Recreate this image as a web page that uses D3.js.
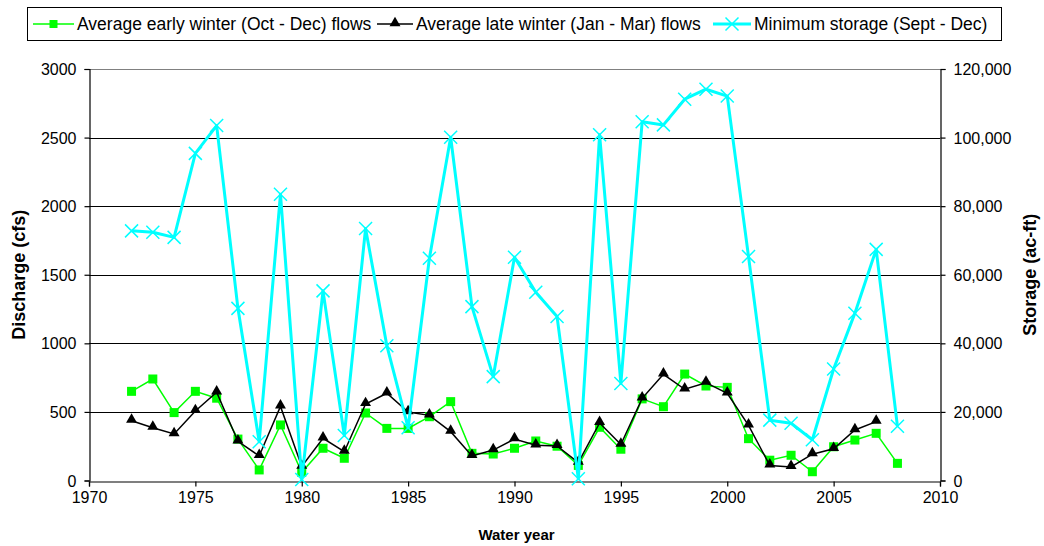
<!DOCTYPE html>
<html>
<head>
<meta charset="utf-8">
<script src="https://cdn.jsdelivr.net/npm/d3@7"></script>
<style>
  html, body { margin: 0; padding: 0; background: #fff; }
  svg { display: block; font-family: "Liberation Sans", Arial, sans-serif; }
</style>
</head>
<body>
<svg id="chart" width="1044" height="546"></svg>
<script>
const years = [1972,1973,1974,1975,1976,1977,1978,1979,1980,1981,1982,1983,1984,1985,1986,1987,1988,1989,1990,
  1991,1992,1993,1994,1995,1996,1997,1998,1999,2000,2001,2002,2003,2004,2005,2006,2007,2008];
const earlyWinter = [650,740,495,650,600,302,77,405,60,235,162,492,380,380,465,575,198,193,235,
  288,250,110,388,228,595,538,776,689,679,305,148,184,64,246,295,344,125];
const lateWinter = [436,385,339,507,643,286,179,540,102,308,210,558,636,499,475,356,179,222,302,
  257,252,130,420,262,599,774,665,713,636,402,110,99,192,231,368,429,null];
const minStorage = [72800,72400,70900,95400,103500,50200,11300,83500,300,55300,13100,73500,39300,15400,64800,100100,50700,30300,65100,
  54900,47800,500,100800,28300,104600,103700,111200,114100,112100,65300,17600,16700,11900,32500,48800,67400,15800];
const xTicks = [1970,1975,1980,1985,1990,1995,2000,2005,2010];
const yLeftTicks = [0,500,1000,1500,2000,2500,3000];
const yRightTicks = [0,20000,40000,60000,80000,100000,120000];
const legendLabels = ["Average early winter (Oct - Dec) flows","Average late winter (Jan - Mar) flows","Minimum storage (Sept - Dec)"];

const svg = d3.select("#chart");
const L = 89, R = 940, T = 69, B = 480.5;

const x = d3.scaleLinear().domain([1970, 2010]).range([L, R]);
const yL = d3.scaleLinear().domain([0, 3000]).range([B, T]);
const yR = d3.scaleLinear().domain([0, 120000]).range([B, T]);

// gridlines
svg.append("g").selectAll("line").data(yLeftTicks.filter(d => d > 0)).join("line")
  .attr("x1", L).attr("x2", R)
  .attr("y1", d => Math.round(yL(d)) + 0.5).attr("y2", d => Math.round(yL(d)) + 0.5)
  .attr("stroke", d => d === 3000 ? "#808080" : "#000").attr("stroke-width", 1);

// axes
const gx = svg.append("g").attr("transform", `translate(0,${Math.round(B) + 0.5})`)
  .call(d3.axisBottom(x).tickValues(xTicks).tickFormat(d3.format("d")).tickSizeOuter(0).tickSize(5).tickPadding(5));
const gl = svg.append("g").attr("transform", `translate(${L + 0.5},0)`)
  .call(d3.axisLeft(yL).tickValues(yLeftTicks).tickFormat(d3.format("d")).tickSizeOuter(0).tickSize(5).tickPadding(8));
const gr = svg.append("g").attr("transform", `translate(${R + 0.5},0)`)
  .call(d3.axisRight(yR).tickValues(yRightTicks).tickFormat(d3.format(",")).tickSizeOuter(0).tickSize(5).tickPadding(8));
[gx, gl, gr].forEach(g => {
  g.selectAll("text").attr("font-size", 16).attr("fill", "#000").attr("font-family", "Liberation Sans, Arial, sans-serif");
  g.selectAll("path, line").attr("stroke", "#000").attr("stroke-width", 1.2);
});
gl.selectAll(".tick text").attr("dy", "0.35em");
gr.selectAll(".tick text").attr("dy", "0.35em");

// axis titles
svg.append("text").attr("transform", `translate(25,${(T + B) / 2}) rotate(-90)`)
  .attr("text-anchor", "middle").attr("font-size", 18).attr("font-weight", "bold").text("Discharge (cfs)");
svg.append("text").attr("transform", `translate(1036,${(T + B) / 2}) rotate(-90)`)
  .attr("text-anchor", "middle").attr("font-size", 18).attr("font-weight", "bold").text("Storage (ac-ft)");
svg.append("text").attr("x", (L + R) / 2 + 2).attr("y", 540)
  .attr("text-anchor", "middle").attr("font-size", 15).attr("font-weight", "bold").text("Water year");

// series
const green = "#00ff00", black = "#000000", cyan = "#00ffff";
const earlyData = years.map((yr, i) => ({ yr, v: earlyWinter[i] }));
const lateData = years.map((yr, i) => ({ yr, v: lateWinter[i] })).filter(d => d.v !== null);
const storData = years.map((yr, i) => ({ yr, v: minStorage[i] }));

const lineL = d3.line().x(d => x(d.yr)).y(d => yL(d.v));
const lineR = d3.line().x(d => x(d.yr)).y(d => yR(d.v));

const gPlot = svg.append("g");
// early winter
gPlot.append("path").datum(earlyData).attr("d", lineL).attr("fill", "none").attr("stroke", green).attr("stroke-width", 1.5);
gPlot.append("g").selectAll("rect").data(earlyData).join("rect")
  .attr("x", d => x(d.yr) - 4.5).attr("y", d => yL(d.v) - 4.5).attr("width", 9).attr("height", 9).attr("fill", green);
// late winter
gPlot.append("path").datum(lateData).attr("d", lineL).attr("fill", "none").attr("stroke", black).attr("stroke-width", 1.5);
const tri = d3.symbol().type(d3.symbolTriangle).size(52);
gPlot.append("g").selectAll("path").data(lateData).join("path")
  .attr("d", tri).attr("transform", d => `translate(${x(d.yr)},${yL(d.v) - 1})`).attr("fill", black);
// storage
gPlot.append("path").datum(storData).attr("d", lineR).attr("fill", "none").attr("stroke", cyan).attr("stroke-width", 3).attr("stroke-linejoin", "round");
const crossPath = "M-6.5,-6.5L6.5,6.5M-6.5,6.5L6.5,-6.5";
gPlot.append("g").selectAll("path").data(storData).join("path")
  .attr("d", crossPath).attr("transform", d => `translate(${x(d.yr)},${yR(d.v)})`)
  .attr("stroke", cyan).attr("stroke-width", 1.5).attr("fill", "none");

// legend
const lg = svg.append("g");
lg.append("rect").attr("x", 27.5).attr("y", 7.5).attr("width", 974).attr("height", 33)
  .attr("fill", "#fff").attr("stroke", "#000").attr("stroke-width", 1);
const legendItems = [
  { label: legendLabels[0], color: green, x0: 33, type: "square", w: 1.5, tx: 77 },
  { label: legendLabels[1], color: black, x0: 377, type: "tri", w: 1.5, tx: 416 },
  { label: legendLabels[2], color: cyan, x0: 713, type: "cross", w: 3, tx: 754 }
];
const ly = 24;
legendItems.forEach(it => {
  const g = lg.append("g");
  g.append("line").attr("x1", it.x0).attr("x2", it.tx - 3).attr("y1", ly).attr("y2", ly)
    .attr("stroke", it.color).attr("stroke-width", it.w);
  const cx = (it.x0 + it.tx - 3) / 2;
  if (it.type === "square") g.append("rect").attr("x", cx - 4).attr("y", ly - 4).attr("width", 8).attr("height", 8).attr("fill", it.color);
  if (it.type === "tri") g.append("path").attr("d", tri).attr("transform", `translate(${cx},${ly - 1})`).attr("fill", it.color);
  if (it.type === "cross") g.append("path").attr("d", crossPath).attr("transform", `translate(${cx},${ly})`).attr("stroke", it.color).attr("stroke-width", 1.5);
  g.append("text").attr("x", it.tx).attr("y", ly).attr("dy", "0.35em").attr("font-size", 17.5).attr("fill", "#000").text(it.label);
});
</script>
</body>
</html>
